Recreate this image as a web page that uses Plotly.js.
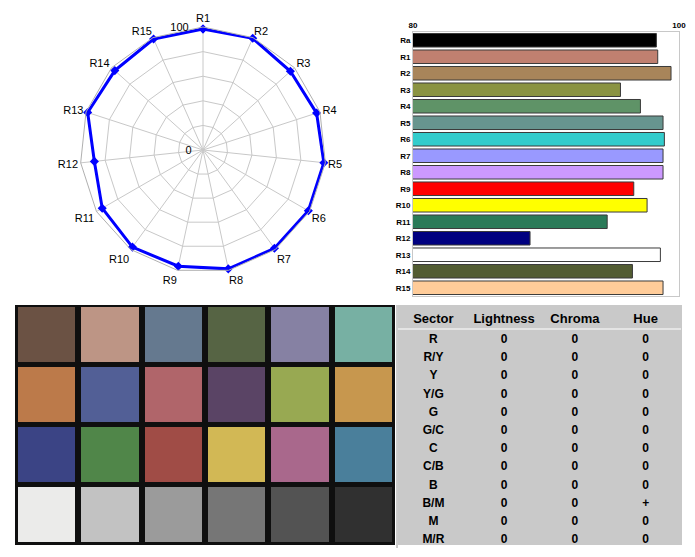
<!DOCTYPE html>
<html>
<head>
<meta charset="utf-8">
<script src="https://cdn.plot.ly/plotly-3.0.1.min.js"></script>
<style>html,body{margin:0;padding:0;background:#fff;}#chart{width:695px;height:557px;}</style>
</head>
<body>
<div id="chart"></div>
<script>
// ---- data ----
const radarCats = ['R1','R2','R3','R4','R5','R6','R7','R8','R9','R10','R11','R12','R13','R14','R15'];
const riValues = [98.4, 99.4, 95.6, 97.1, 98.8, 98.9, 98.8, 98.8, 96.6, 97.6, 94.6, 88.8, 98.6, 96.5, 98.8];
const raValue = 98.3;
const barCats = ['Ra','R1','R2','R3','R4','R5','R6','R7','R8','R9','R10','R11','R12','R13','R14','R15'];
const barColors = ['#000000','#c08070','#a8855a','#8a9342','#5f9367','#67958f','#33cccc','#9999ff',
                   '#cc99ff','#ff0000','#ffff00','#2a7a58','#000080','#ffffff','#525c32','#ffcc99'];
const radialTickVals = [0, 20, 40, 60, 80, 100];
const radialTickText = ['0', '', '', '', '', '100'];
const barTickVals = [80, 100];

const checkerRow1 = ['#6b5244','#bd9585','#65798f','#566444','#8681a3','#77b0a3'];
const checkerRow2 = ['#bc7a4a','#525f96','#b0656a','#5a4465','#98a952','#c7974e'];
const checkerRow3 = ['#3b4485','#508649','#a04c46','#d2b855','#a9688c','#4a7f9b'];
const checkerRow4 = ['#ebebea','#c2c2c2','#9b9b9b','#767676','#535353','#303030'];

const tableHeader = ['Sector','Lightness','Chroma','Hue'];
const sectors   = ['R','R/Y','Y','Y/G','G','G/C','C','C/B','B','B/M','M','M/R'];
const lightness = ['0','0','0','0','0','0','0','0','0','0','0','0'];
const chroma    = ['0','0','0','0','0','0','0','0','0','0','0','0'];
const hue       = ['0','0','0','0','0','0','0','0','0','+','0','0'];

// ---- helpers (pixel -> paper) ----
const W = 695, H = 557;
const px = x => x / W;
const py = y => 1 - y / H;
// radial labels sit to the left of the vertical axis: pad with trailing no-break spaces
const padLeft = (s, n) => s ? s + '\u00a0'.repeat(n) : s;
const radialLabels = radialTickText.map((s, i) => padLeft(s, s.length > 1 ? 4 : 3));

// ---- traces ----
const radar = {
  type: 'scatterpolar',
  r: riValues.concat([riValues[0]]),
  theta: radarCats.concat([radarCats[0]]),
  mode: 'lines+markers',
  line: {color: '#0000ff', width: 3},
  marker: {symbol: 'diamond', size: 7, color: '#0000ff'},
  hoverinfo: 'skip',
  showlegend: false
};

const bars = {
  type: 'bar',
  orientation: 'h',
  x: [raValue].concat(riValues),
  y: barCats,
  base: 0,
  xaxis: 'x', yaxis: 'y',
  marker: {color: barColors, line: {color: '#3a3a3a', width: 1}},
  width: 0.82,
  hoverinfo: 'skip',
  showlegend: false
};

const checkerColors = [checkerRow1, checkerRow2, checkerRow3, checkerRow4];
const flatColors = [].concat(...checkerColors);
const nC = flatColors.length;
const checkerScale = [];
flatColors.forEach((c, i) => { checkerScale.push([i / nC, c]); checkerScale.push([(i + 1) / nC, c]); });
const checkerZ = checkerColors.map((row, r) => row.map((c, k) => r * row.length + k + 0.5));

const checker = {
  type: 'heatmap',
  z: checkerZ,
  x: [0,1,2,3,4,5],
  y: [0,1,2,3],
  zmin: 0, zmax: nC,
  colorscale: checkerScale,
  showscale: false,
  xgap: 6, ygap: 5,
  xaxis: 'x2', yaxis: 'y2',
  hoverinfo: 'skip'
};

const tableGray = '#c9c9c9';
const table = {
  type: 'table',
  domain: {x: [px(398), px(681)], y: [py(548), py(305)]},
  columnwidth: [1, 1, 1, 1],
  header: {
    values: tableHeader,
    height: 21,
    align: 'center',
    fill: {color: tableGray},
    line: {width: 1, color: tableGray},
    font: {family: 'Liberation Sans, Arial, sans-serif', size: 13, color: '#000', weight: 'bold'}
  },
  cells: {
    values: [sectors, lightness, chroma, hue],
    height: 18.2,
    align: 'center',
    fill: {color: tableGray},
    line: {width: 1, color: tableGray},
    font: {family: 'Liberation Sans, Arial, sans-serif', size: 12, color: '#000', weight: 'bold'}
  }
};

const layout = {
  width: W, height: H,
  margin: {l: 0, r: 0, t: 0, b: 0},
  paper_bgcolor: '#ffffff',
  plot_bgcolor: '#ffffff',
  showlegend: false,
  font: {family: 'Liberation Sans, Arial, sans-serif', color: '#000'},
  polar: {
    domain: {x: [px(80), px(326)], y: [py(273), py(27)]},
    gridshape: 'linear',
    bgcolor: '#ffffff',
    radialaxis: {
      range: [0, 100],
      angle: 90,
      side: 'counterclockwise',
      tickangle: 90,
      tickvals: radialTickVals,
      ticktext: radialLabels,
      showline: false,
      ticks: '',
      gridcolor: '#c8c8c8',
      gridwidth: 1,
      tickfont: {size: 11, color: '#000'}
    },
    angularaxis: {
      direction: 'clockwise',
      rotation: 90,
      categoryarray: radarCats,
      gridcolor: '#c8c8c8',
      linecolor: '#b0b0b0',
      showline: true,
      ticks: '',
      tickfont: {size: 11, color: '#000'}
    }
  },
  xaxis: {
    domain: [px(413), px(679)],
    anchor: 'y',
    range: [80, 100],
    side: 'top',
    tickvals: barTickVals,
    showgrid: false,
    zeroline: false,
    showline: true, mirror: true,
    linecolor: '#c8c8c8', linewidth: 1,
    ticks: '',
    tickfont: {size: 8, weight: 'bold', color: '#000'},
    fixedrange: true
  },
  yaxis: {
    domain: [py(296), py(32)],
    anchor: 'x',
    autorange: 'reversed',
    showgrid: false,
    zeroline: false,
    showline: true, mirror: true,
    linecolor: '#c8c8c8', linewidth: 1,
    ticks: '',
    tickfont: {size: 8, weight: 'bold', color: '#000'},
    fixedrange: true
  },
  bargap: 0.15,
  xaxis2: {
    domain: [px(15), px(395)],
    anchor: 'y2',
    range: [-0.5, 5.5],
    showgrid: false, zeroline: false, showticklabels: false, ticks: '',
    fixedrange: true
  },
  yaxis2: {
    domain: [py(545), py(305)],
    anchor: 'x2',
    range: [3.5, -0.5],
    showgrid: false, zeroline: false, showticklabels: false, ticks: '',
    fixedrange: true
  },
  shapes: [
    {type: 'rect', xref: 'x2 domain', yref: 'y2 domain', x0: 0, x1: 1, y0: 0, y1: 1,
     fillcolor: '#0f0f0f', line: {width: 0}, layer: 'below'},
    {type: 'line', xref: 'paper', yref: 'paper', x0: px(398), x1: px(681), y0: py(329), y1: py(329),
     line: {color: '#ffffff', width: 1}},
    {type: 'line', xref: 'paper', yref: 'paper', x0: px(397), x1: px(397), y0: py(305), y1: py(548),
     line: {color: '#9a9a9a', width: 1}}
  ]
};

Plotly.newPlot('chart', [radar, bars, checker, table], layout, {staticPlot: true, displayModeBar: false});
</script>
</body>
</html>
